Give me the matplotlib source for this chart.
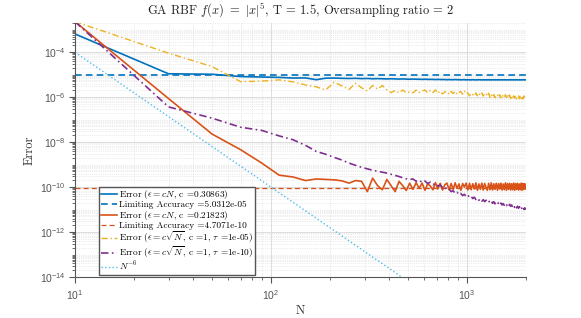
import numpy as np
import matplotlib
matplotlib.use('Agg')
import matplotlib.pyplot as plt
from matplotlib.ticker import LogLocator, NullFormatter, FixedLocator, LogFormatterSciNotation

# ---------------- data ----------------
N = np.arange(10, 2000, 20)

err_cN_030863 = [
    6.5e-4, 1.1e-5, 1.05e-5, 8.3e-6, 7.9e-6, 7.6e-6, 7.1e-6, 7.2e-6, 6.0e-6, 7.0e-6,
    7.1e-6, 6.9e-6, 6.8e-6, 6.9e-6, 6.7e-6, 6.8e-6, 6.6e-6, 6.7e-6, 6.6e-6, 6.5e-6,
    6.6e-6, 6.5e-6, 6.4e-6, 6.5e-6, 6.4e-6, 6.3e-6, 6.4e-6, 6.3e-6, 6.3e-6, 6.2e-6,
    6.3e-6, 6.2e-6, 6.2e-6, 6.2e-6, 6.1e-6, 6.2e-6, 6.1e-6, 6.1e-6, 6.1e-6, 6.0e-6,
    6.1e-6, 6.0e-6, 6.0e-6, 6.1e-6, 6.0e-6, 6.0e-6, 5.9e-6, 6.0e-6, 6.0e-6, 5.9e-6,
    6.0e-6, 5.9e-6, 5.9e-6, 6.0e-6, 5.9e-6, 5.9e-6, 5.9e-6, 6.0e-6, 5.9e-6, 5.9e-6,
    5.9e-6, 5.95e-6, 5.9e-6, 5.9e-6, 5.95e-6, 5.9e-6, 5.9e-6, 5.9e-6, 5.95e-6, 5.9e-6,
    5.9e-6, 5.9e-6, 5.95e-6, 5.9e-6, 5.9e-6, 5.9e-6, 5.9e-6, 5.95e-6, 5.9e-6, 5.9e-6,
    5.9e-6, 5.9e-6, 5.9e-6, 5.95e-6, 5.9e-6, 5.9e-6, 5.9e-6, 5.9e-6, 5.9e-6, 5.95e-6,
    5.9e-6, 5.9e-6, 5.9e-6, 5.9e-6, 5.9e-6, 5.9e-6, 5.95e-6, 5.9e-6, 5.9e-6, 5.9e-6,
]

err_cN_021823 = [
    2.3e-3, 8.7e-7, 2.3e-8, 4.6e-9, 1.15e-9, 3.4e-10, 2.8e-10, 1.95e-10, 2.3e-10, 2.2e-10,
    2.1e-10, 1.9e-10, 1.5e-10, 1.95e-10, 1.8e-10, 6.3e-11, 2.5e-10, 1.15e-10, 7.6e-11, 2.2e-10,
    1.15e-10, 6.3e-11, 1.8e-10, 1.15e-10, 7.1e-11, 1.5e-10,
    7.9e-11, 1.58e-10, 8.9e-11, 1.51e-10, 7.2e-11, 1.41e-10, 1.12e-10, 7.6e-11, 1.58e-10, 8.3e-11,
    1.48e-10, 7.4e-11, 1.26e-10, 1.51e-10, 7.6e-11, 1.45e-10, 7.9e-11, 1.55e-10, 8.7e-11, 1.38e-10,
    7.2e-11, 1.45e-10, 1.0e-10, 1.51e-10, 7.4e-11, 1.48e-10, 7.6e-11, 1.41e-10, 8.3e-11, 1.55e-10,
    7.2e-11, 1.38e-10, 7.9e-11, 1.51e-10, 7.4e-11, 1.45e-10, 1.0e-10, 7.2e-11, 1.48e-10, 7.6e-11,
    1.55e-10, 7.4e-11, 1.41e-10, 7.9e-11, 1.48e-10, 7.2e-11, 1.45e-10, 8.3e-11, 1.51e-10, 7.4e-11,
    1.38e-10, 7.6e-11, 1.55e-10, 7.2e-11, 1.45e-10, 7.9e-11, 1.48e-10, 7.4e-11, 1.41e-10, 7.6e-11,
    1.51e-10, 7.2e-11, 1.45e-10, 7.9e-11, 1.48e-10, 7.4e-11, 1.38e-10, 7.6e-11, 1.51e-10, 7.2e-11,
    1.45e-10, 7.9e-11, 1.41e-10, 8.3e-11,
]

err_sqrtN_tau1e5 = [
    2.3e-3, 9.1e-5, 2.3e-5, 4.9e-6, 5.2e-6, 5.9e-6, 4.8e-6, 3.5e-6, 2.9e-6, 2.1e-6,
    4.6e-6, 3.2e-6, 2.2e-6, 4.2e-6, 2.6e-6, 1.9e-6, 3.3e-6, 2.3e-6, 3.3e-6, 2.1e-6,
    1.6e-6, 2.0e-6, 1.55e-6, 2.1e-6, 1.55e-6, 1.75e-6,
    1.55e-6, 2.1e-6, 1.6e-6, 1.9e-6, 2.1e-6, 1.55e-6, 2.0e-6, 1.6e-6, 2.1e-6, 1.5e-6,
    1.85e-6, 1.4e-6, 1.7e-6, 1.85e-6, 1.35e-6, 1.8e-6, 1.45e-6, 1.85e-6, 1.35e-6, 1.6e-6,
    1.8e-6, 1.35e-6, 1.85e-6, 1.4e-6,
    1.55e-6, 1.15e-6, 1.5e-6, 1.3e-6, 1.12e-6, 1.55e-6, 1.15e-6, 1.5e-6, 1.2e-6, 1.55e-6,
    1.12e-6, 1.4e-6, 1.5e-6, 1.12e-6, 1.5e-6,
    0.98e-6, 1.32e-6, 1.0e-6, 1.3e-6, 0.95e-6, 1.15e-6, 1.32e-6, 0.97e-6, 1.3e-6, 0.95e-6,
    1.28e-6, 1.05e-6, 0.95e-6, 1.3e-6, 0.98e-6, 1.32e-6, 0.95e-6, 1.25e-6,
    0.88e-6, 1.17e-6, 0.85e-6, 1.15e-6, 0.9e-6, 1.17e-6, 0.85e-6, 1.05e-6, 1.15e-6, 0.85e-6,
    1.17e-6, 0.87e-6, 1.12e-6, 0.85e-6, 1.15e-6, 0.88e-6, 0.9e-6,
]

err_sqrtN_tau1e10 = [
    2.3e-3, 3.7e-7, 1.17e-7, 4.6e-8, 3.3e-8, 1.9e-8, 1.26e-8, 7.2e-9, 3.9e-9, 2.9e-9,
    2.1e-9, 1.6e-9, 1.17e-9, 9.3e-10, 7.6e-10, 6.5e-10, 5.6e-10, 5.0e-10, 4.6e-10, 4.2e-10,
    3.7e-10, 3.3e-10, 2.95e-10, 2.6e-10, 2.35e-10, 2.2e-10,
    2.29e-10, 1.82e-10, 2.04e-10, 1.62e-10, 1.86e-10, 1.45e-10, 1.66e-10, 1.29e-10, 1.45e-10, 1.12e-10,
    1.23e-10, 9.5e-11, 1.05e-10, 7.8e-11, 8.3e-11, 6.3e-11, 6.9e-11, 5.2e-11, 5.9e-11, 4.6e-11,
    5.2e-11, 4.2e-11, 4.8e-11, 3.8e-11, 4.4e-11, 3.5e-11, 3.9e-11, 3.1e-11, 3.55e-11, 2.8e-11,
    3.2e-11, 2.6e-11, 2.95e-11, 2.35e-11, 2.75e-11, 2.25e-11, 2.6e-11, 2.15e-11, 2.45e-11, 2.0e-11,
    2.35e-11, 1.9e-11, 2.25e-11, 1.8e-11, 2.1e-11, 1.75e-11, 2.05e-11, 1.65e-11, 1.95e-11, 1.6e-11,
    1.85e-11, 1.55e-11, 1.8e-11, 1.5e-11, 1.75e-11, 1.4e-11, 1.7e-11, 1.4e-11, 1.6e-11, 1.3e-11,
    1.55e-11, 1.25e-11, 1.5e-11, 1.2e-11, 1.4e-11, 1.15e-11, 1.35e-11, 1.1e-11, 1.3e-11, 1.05e-11,
    1.25e-11, 1.02e-11, 1.2e-11, 9.8e-12,
]

limit_level_030863 = 1.006e-5
limit_level_021823 = 9.41e-11
N_limits = [10, 2000]

ref_N = [10, 2000]
ref_err = [1e-4, 1.56e-18]

labels = [
    r'Error ($\epsilon = cN$, c =0.30863)',
    r'Limiting Accuracy =5.0312e-05',
    r'Error ($\epsilon = cN$, c =0.21823)',
    r'Limiting Accuracy =4.7071e-10',
    r'Error ($\epsilon = c\sqrt{N}$, c =1, $\tau$ =1e-05)',
    r'Error ($\epsilon = c\sqrt{N}$, c =1, $\tau$ =1e-10)',
    r'$N^{-6}$',
]
title = r'GA RBF $f(x)\ =\ |x|^5$, T = 1.5, Oversampling ratio = 2'

# ---------------- style ----------------
plt.rcParams['mathtext.fontset'] = 'cm'
plt.rcParams['font.family'] = ['Liberation Sans', 'DejaVu Sans']
serif = ['cmr10', 'DejaVu Serif']
plt.rcParams['axes.formatter.use_mathtext'] = True

c_blue = '#0072BD'
c_orange = '#D95319'
c_yellow = '#EDB120'
c_purple = '#7E2F8E'
c_cyan = '#4DBEEE'
axis_col = '#555555'

fig = plt.figure(figsize=(5.81, 3.18), dpi=100)
ax = fig.add_axes([75/581, 41/318, 451/581, 254/318])

dashdot = (0, (4.5, 2, 1, 2))
ax.plot(N, err_cN_030863, color=c_blue, lw=1.2, ls='-', label=labels[0])
ax.plot(N_limits, [limit_level_030863]*2, color=c_blue, lw=1.2, ls=(0, (4, 2.5)), label=labels[1])
ax.plot(N, err_cN_021823, color=c_orange, lw=1.2, ls='-', label=labels[2])
ax.plot(N_limits, [limit_level_021823]*2, color=c_orange, lw=0.9, ls=(0, (4, 2.5)), label=labels[3])
ax.plot(N, err_sqrtN_tau1e5, color=c_yellow, lw=1.0, ls=dashdot, label=labels[4])
ax.plot(N, err_sqrtN_tau1e10, color=c_purple, lw=1.2, ls=dashdot, label=labels[5])
ax.plot(ref_N, ref_err, color=c_cyan, lw=1.0, ls=':', label=labels[6])

ax.set_xscale('log')
ax.set_yscale('log')
ax.set_xlim(10, 2000)
ax.set_ylim(1e-14, 2e-3)

ax.yaxis.set_major_locator(FixedLocator([1e-14, 1e-12, 1e-10, 1e-8, 1e-6, 1e-4]))
ax.yaxis.set_minor_locator(LogLocator(base=10, subs=np.arange(1, 10), numticks=50))
ax.yaxis.set_minor_formatter(NullFormatter())
ax.yaxis.set_major_formatter(LogFormatterSciNotation())
ax.xaxis.set_major_locator(FixedLocator([10, 100, 1000]))
ax.xaxis.set_minor_locator(LogLocator(base=10, subs=np.arange(2, 10), numticks=50))
ax.xaxis.set_minor_formatter(NullFormatter())
ax.xaxis.set_major_formatter(LogFormatterSciNotation())

ax.grid(True, which='major', color='#dcdcdc', lw=0.7, ls='-')
ax.grid(True, which='minor', color='#dadada', lw=0.5, ls=':')
ax.set_axisbelow(True)

for s in ['top', 'right']:
    ax.spines[s].set_visible(False)
for s in ['left', 'bottom']:
    ax.spines[s].set_color(axis_col)
    ax.spines[s].set_linewidth(0.8)
ax.tick_params(which='both', direction='out', colors=axis_col, labelsize=7.5)
ax.tick_params(which='major', length=4, width=0.8)
ax.tick_params(axis='y', which='major', pad=2.5)
ax.tick_params(axis='x', which='major', pad=4)
ax.tick_params(which='minor', length=2.5, width=0.6)

ax.set_title(title, family=serif, fontsize=9, color='#222222', pad=6)
ax.set_xlabel('N', family=serif, fontsize=9, color='#333333', labelpad=2)
ax.set_ylabel('Error', family=serif, fontsize=9, color='#333333', labelpad=3)

leg = ax.legend(loc='lower left', bbox_to_anchor=(0.053, 0.008), borderaxespad=0,
                prop={'family': serif, 'size': 6.7}, fancybox=False, framealpha=1,
                edgecolor='#555555', labelspacing=-0.05, handlelength=1.7,
                handletextpad=0.3, borderpad=0.2)
leg.get_frame().set_linewidth(1.0)

fig.savefig('out.png', dpi=100)
